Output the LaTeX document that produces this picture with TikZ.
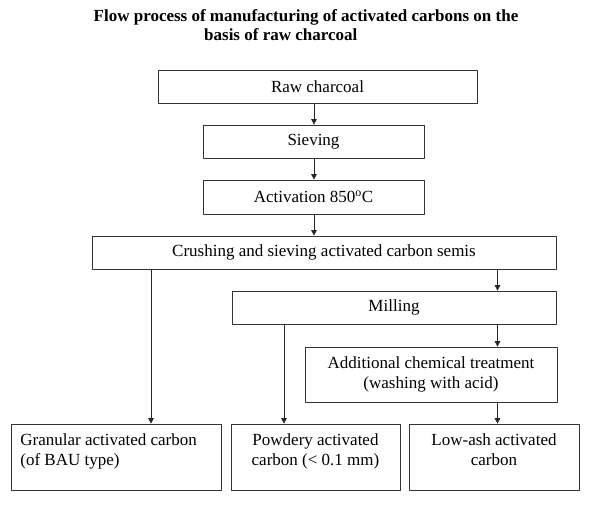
\documentclass[tikz,border=0pt]{standalone}
\usepackage{fontspec}
\setmainfont{Liberation Serif}
\usetikzlibrary{arrows.meta,calc,positioning}
\tikzset{
  stage/.style={rectangle, draw=black!80, line width=0.7pt, inner sep=0pt, align=center, font=\fontsize{17}{20}\selectfont},
  txt/.style={inner sep=0pt, font=\fontsize{17}{20}\selectfont},
  flow/.style={draw=black!85, line width=0.7pt, -{Triangle[length=5.5pt,width=5.5pt]}},
  every picture/.style={line cap=round, line join=round}
}

\begin{document}
\begin{tikzpicture}[x=1pt, y=-1pt]
  \useasboundingbox (0,0) rectangle (590,514);
  \node[txt, anchor=base, font=\bfseries\fontsize{17}{20}\selectfont] (title) at (306,21) {Flow process of manufacturing of activated carbons on the};
  \node[txt, anchor=base west, font=\bfseries\fontsize{17}{20}\selectfont] (title2) at (204,40) {basis of raw charcoal};

  \node[stage, minimum width=319pt, minimum height=33pt] (raw) at (317.5,86.5) {Raw charcoal};
  \node[stage, minimum width=221pt, minimum height=33pt] (sieve) at (313.5,141.5) {Sieving};
  \node[stage, minimum width=221pt, minimum height=34pt] (act) at (313.5,197) {Activation 850\textsuperscript{o}C};
  \node[stage, minimum width=464pt, minimum height=33pt] (crush) at (324,252.5) {Crushing and sieving activated carbon semis};
  \node[stage, minimum width=324pt, minimum height=33pt] (mill) at (394,307.5) {Milling};
  \node[stage, minimum width=252pt, minimum height=55pt] (acid) at (431,374.5) {Additional chemical treatment\\(washing with acid)};
  \node[stage, minimum width=210pt, minimum height=66pt] (gran) at (116,457) {};
  \node[stage, minimum width=169pt, minimum height=66pt] (powd) at (315.5,457) {};
  \node[stage, minimum width=170pt, minimum height=66pt] (lowash) at (494,457) {};

  % product texts sit at the top of their boxes
  \node[txt, anchor=north west, align=left] (grantext) at ($(gran.north west)+(9.5,9.5)$) {Granular activated carbon\\(of BAU type)};
  \node[txt, anchor=north, align=center] (powdtext) at ($(powd.north)+(0,9.5)$) {Powdery activated\\carbon (< 0.1 mm)};
  \node[txt, anchor=north, align=center] (lowtext) at ($(lowash.north)+(0,9.5)$) {Low-ash activated\\carbon};

  \coordinate (xmain) at (314,0);
  \coordinate (xright) at (497.5,0);
  \coordinate (xgran) at (151,0);
  \coordinate (xpowd) at (284,0);

  \draw[flow] (raw.south -| xmain) -- (sieve.north -| xmain);
  \draw[flow] (sieve.south -| xmain) -- (act.north -| xmain);
  \draw[flow] (act.south -| xmain) -- (crush.north -| xmain);
  \draw[flow] (crush.south -| xright) -- (mill.north -| xright);
  \draw[flow] (mill.south -| xright) -- (acid.north -| xright);
  \draw[flow] (acid.south -| xright) -- (lowash.north -| xright);
  \draw[flow] (crush.south -| xgran) -- (gran.north -| xgran);
  \draw[flow] (mill.south -| xpowd) -- (powd.north -| xpowd);
\end{tikzpicture}
\end{document}
